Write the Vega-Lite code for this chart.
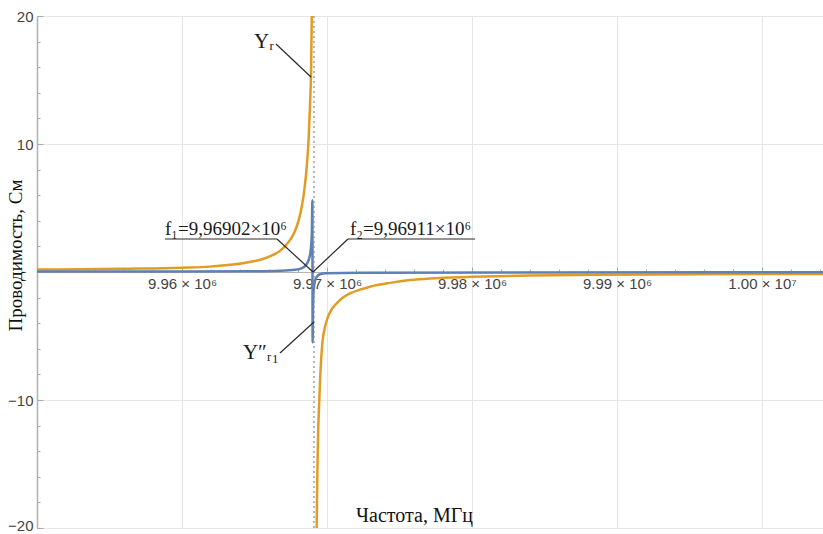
{
  "$schema": "https://vega.github.io/schema/vega-lite/v6.json",
  "width": 786,
  "height": 512,
  "autosize": {"type": "none"},
  "padding": {"left": 37, "top": 16, "right": 0, "bottom": 6},
  "background": "white",
  "config": {
    "view": {"stroke": null},
    "axis": {
      "labelFont": "Liberation Sans",
      "labelFontSize": 15,
      "labelColor": "#444444",
      "titleFont": "Liberation Serif",
      "titleFontWeight": "normal",
      "titleColor": "#111111",
      "gridColor": "#e6e6e6",
      "gridWidth": 1,
      "tickColor": "#a8a8a8",
      "domainColor": "#b4b4b4",
      "labelOverlap": false,
      "labelFlush": false,
      "labelBound": false
    }
  },
  "datasets": {
    "orange": [
      {"f": 9950000, "v": 0.2, "branch": "L"},
      {"f": 9952966, "v": 0.21, "branch": "L"},
      {"f": 9956414, "v": 0.26, "branch": "L"},
      {"f": 9960000, "v": 0.34, "branch": "L"},
      {"f": 9961931, "v": 0.42, "branch": "L"},
      {"f": 9963517, "v": 0.58, "branch": "L"},
      {"f": 9964690, "v": 0.78, "branch": "L"},
      {"f": 9965517, "v": 1.0, "branch": "L"},
      {"f": 9966207, "v": 1.3, "branch": "L"},
      {"f": 9966759, "v": 1.65, "branch": "L"},
      {"f": 9967172, "v": 2.1, "branch": "L"},
      {"f": 9967517, "v": 2.6, "branch": "L"},
      {"f": 9967793, "v": 3.2, "branch": "L"},
      {"f": 9968035, "v": 4.0, "branch": "L"},
      {"f": 9968241, "v": 5.0, "branch": "L"},
      {"f": 9968414, "v": 6.2, "branch": "L"},
      {"f": 9968586, "v": 8.0, "branch": "L"},
      {"f": 9968724, "v": 10.2, "branch": "L"},
      {"f": 9968828, "v": 13.0, "branch": "L"},
      {"f": 9968897, "v": 15.5, "branch": "L"},
      {"f": 9968952, "v": 20, "branch": "L"},
      {"f": 9969290, "v": -20, "branch": "R"},
      {"f": 9969331, "v": -16, "branch": "R"},
      {"f": 9969379, "v": -13, "branch": "R"},
      {"f": 9969469, "v": -10, "branch": "R"},
      {"f": 9969586, "v": -7, "branch": "R"},
      {"f": 9969703, "v": -5.3, "branch": "R"},
      {"f": 9969862, "v": -4.3, "branch": "R"},
      {"f": 9970034, "v": -3.6, "branch": "R"},
      {"f": 9970276, "v": -3.0, "branch": "R"},
      {"f": 9970669, "v": -2.45, "branch": "R"},
      {"f": 9971103, "v": -2.0, "branch": "R"},
      {"f": 9971586, "v": -1.67, "branch": "R"},
      {"f": 9972276, "v": -1.38, "branch": "R"},
      {"f": 9972966, "v": -1.15, "branch": "R"},
      {"f": 9974345, "v": -0.85, "branch": "R"},
      {"f": 9975724, "v": -0.63, "branch": "R"},
      {"f": 9977103, "v": -0.5, "branch": "R"},
      {"f": 9980000, "v": -0.38, "branch": "R"},
      {"f": 9984000, "v": -0.28, "branch": "R"},
      {"f": 9988828, "v": -0.22, "branch": "R"},
      {"f": 9995724, "v": -0.18, "branch": "R"},
      {"f": 10004207, "v": -0.15, "branch": "R"}
    ],
    "blue": [
      {"f": 9950000, "v": 0.03},
      {"f": 9960000, "v": 0.04},
      {"f": 9964690, "v": 0.06},
      {"f": 9966759, "v": 0.1},
      {"f": 9967793, "v": 0.17},
      {"f": 9968276, "v": 0.3},
      {"f": 9968552, "v": 0.55},
      {"f": 9968724, "v": 0.9},
      {"f": 9968862, "v": 1.6},
      {"f": 9968952, "v": 3.0},
      {"f": 9968993, "v": 5.6},
      {"f": 9969007, "v": -5.5},
      {"f": 9969034, "v": -3.0},
      {"f": 9969076, "v": -1.5},
      {"f": 9969172, "v": -0.7},
      {"f": 9969310, "v": -0.35},
      {"f": 9969517, "v": -0.18},
      {"f": 9969931, "v": -0.1},
      {"f": 9972276, "v": -0.05},
      {"f": 10004207, "v": -0.02}
    ],
    "resonance": [{"f": 9969103}],
    "leaders": [
      {"f": 9966483, "v": 17.81, "f2": 9968897, "v2": 15.23},
      {"f": 9958828, "v": 2.58, "f2": 9966552, "v2": 2.58},
      {"f": 9966552, "v": 2.58, "f2": 9969035, "v2": 0},
      {"f": 9971448, "v": 2.58, "f2": 9980207, "v2": 2.58},
      {"f": 9971448, "v": 2.58, "f2": 9969035, "v2": 0},
      {"f": 9966759, "v": -6.33, "f2": 9969103, "v2": -3.91}
    ],
    "ylabels": [
      {"f": 9966414, "v": 17.97, "t": "Yᵣ"},
      {"f": 9966759, "v": -6.33, "t": "Y″ᵣ₁"}
    ],
    "flabels": [
      {"f": 9958828, "v": 2.89, "t": "f₁=9,96902×10⁶"},
      {"f": 9971586, "v": 2.89, "t": "f₂=9,96911×10⁶"}
    ]
  },
  "layer": [
    {
      "data": {"name": "orange"},
      "mark": {"type": "line", "color": "#e19c24", "strokeWidth": 2.5, "interpolate": "monotone", "clip": true},
      "encoding": {
        "x": {
          "field": "f", "type": "quantitative",
          "scale": {"domain": [9950000, 10004207], "nice": false, "zero": false},
          "axis": {
            "orient": "bottom",
            "offset": -256,
            "title": "Частота, МГц",
            "titleFontSize": 20,
            "titleX": 377,
            "titleY": 249,
            "titleAlign": "center",
            "titleBaseline": "alphabetic",
            "tickCount": 200,
            "values": [9950000, 9952000, 9954000, 9956000, 9958000, 9960000, 9962000, 9964000, 9966000, 9968000, 9970000, 9972000, 9974000, 9976000, 9978000, 9980000, 9982000, 9984000, 9986000, 9988000, 9990000, 9992000, 9994000, 9996000, 9998000, 10000000, 10002000, 10004000],
            "labelExpr": "(datum.value % 10000 == 0 && datum.value > 9955000) ? (datum.value >= 9999999 ? '1.00 × 10⁷' : format(datum.value / 1000000, '.2f') + ' × 10⁶') : ''",
            "labelPadding": 9,
            "tickSize": {"condition": {"test": "datum.value % 10000 == 0", "value": -5}, "value": -3},
            "grid": true,
            "gridOpacity": {"condition": {"test": "datum.value % 10000 == 0 && datum.value > 9955000", "value": 1}, "value": 0},
            "domainWidth": 1
          }
        },
        "y": {
          "field": "v", "type": "quantitative",
          "scale": {"domain": [-20, 20], "nice": false, "zero": false},
          "axis": {
            "title": "Проводимость, См",
            "titleFontSize": 19,
            "titleAngle": -90,
            "titleX": -22,
            "titleY": 239,
            "titleAlign": "center",
            "titleBaseline": "middle",
            "tickCount": 200,
            "values": [-20, -18, -16, -14, -12, -10, -8, -6, -4, -2, 0, 2, 4, 6, 8, 10, 12, 14, 16, 18, 20],
            "labelExpr": "(datum.value % 10 == 0 && datum.value != 0) ? format(datum.value, 'd') : ''",
            "labelFontSize": 15,
            "labelPadding": 10,
            "labelOffset": {"condition": {"test": "datum.value == -20", "value": -3}, "value": 0},
            "tickSize": {"condition": {"test": "datum.value % 10 == 0", "value": -6}, "value": -3},
            "grid": true,
            "gridOpacity": {"condition": {"test": "datum.value % 10 == 0 && datum.value != 0", "value": 1}, "value": 0},
            "domainWidth": 1.6
          }
        },
        "detail": {"field": "branch"}
      }
    },
    {
      "data": {"name": "blue"},
      "mark": {"type": "line", "color": "#5e81b5", "strokeWidth": 2.5, "interpolate": "monotone", "clip": true},
      "encoding": {
        "x": {"field": "f", "type": "quantitative"},
        "y": {"field": "v", "type": "quantitative"}
      }
    },
    {
      "data": {"name": "resonance"},
      "mark": {"type": "rule", "color": "#8a8a8a", "strokeWidth": 1.2, "strokeDash": [2, 3]},
      "encoding": {
        "x": {"field": "f", "type": "quantitative"}
      }
    },
    {
      "data": {"name": "leaders"},
      "mark": {"type": "rule", "color": "#2a2a2a", "strokeWidth": 1.2},
      "encoding": {
        "x": {"field": "f", "type": "quantitative"},
        "y": {"field": "v", "type": "quantitative"},
        "x2": {"field": "f2"},
        "y2": {"field": "v2"}
      }
    },
    {
      "data": {"name": "ylabels"},
      "mark": {"type": "text", "font": "Liberation Serif", "fontSize": 21, "align": "right", "baseline": "middle", "color": "#1a1a1a", "dx": -1},
      "encoding": {
        "x": {"field": "f", "type": "quantitative"},
        "y": {"field": "v", "type": "quantitative"},
        "text": {"field": "t"}
      }
    },
    {
      "data": {"name": "flabels"},
      "mark": {"type": "text", "font": "Liberation Serif", "fontSize": 19, "align": "left", "baseline": "alphabetic", "color": "#1a1a1a"},
      "encoding": {
        "x": {"field": "f", "type": "quantitative"},
        "y": {"field": "v", "type": "quantitative"},
        "text": {"field": "t"}
      }
    }
  ]
}
